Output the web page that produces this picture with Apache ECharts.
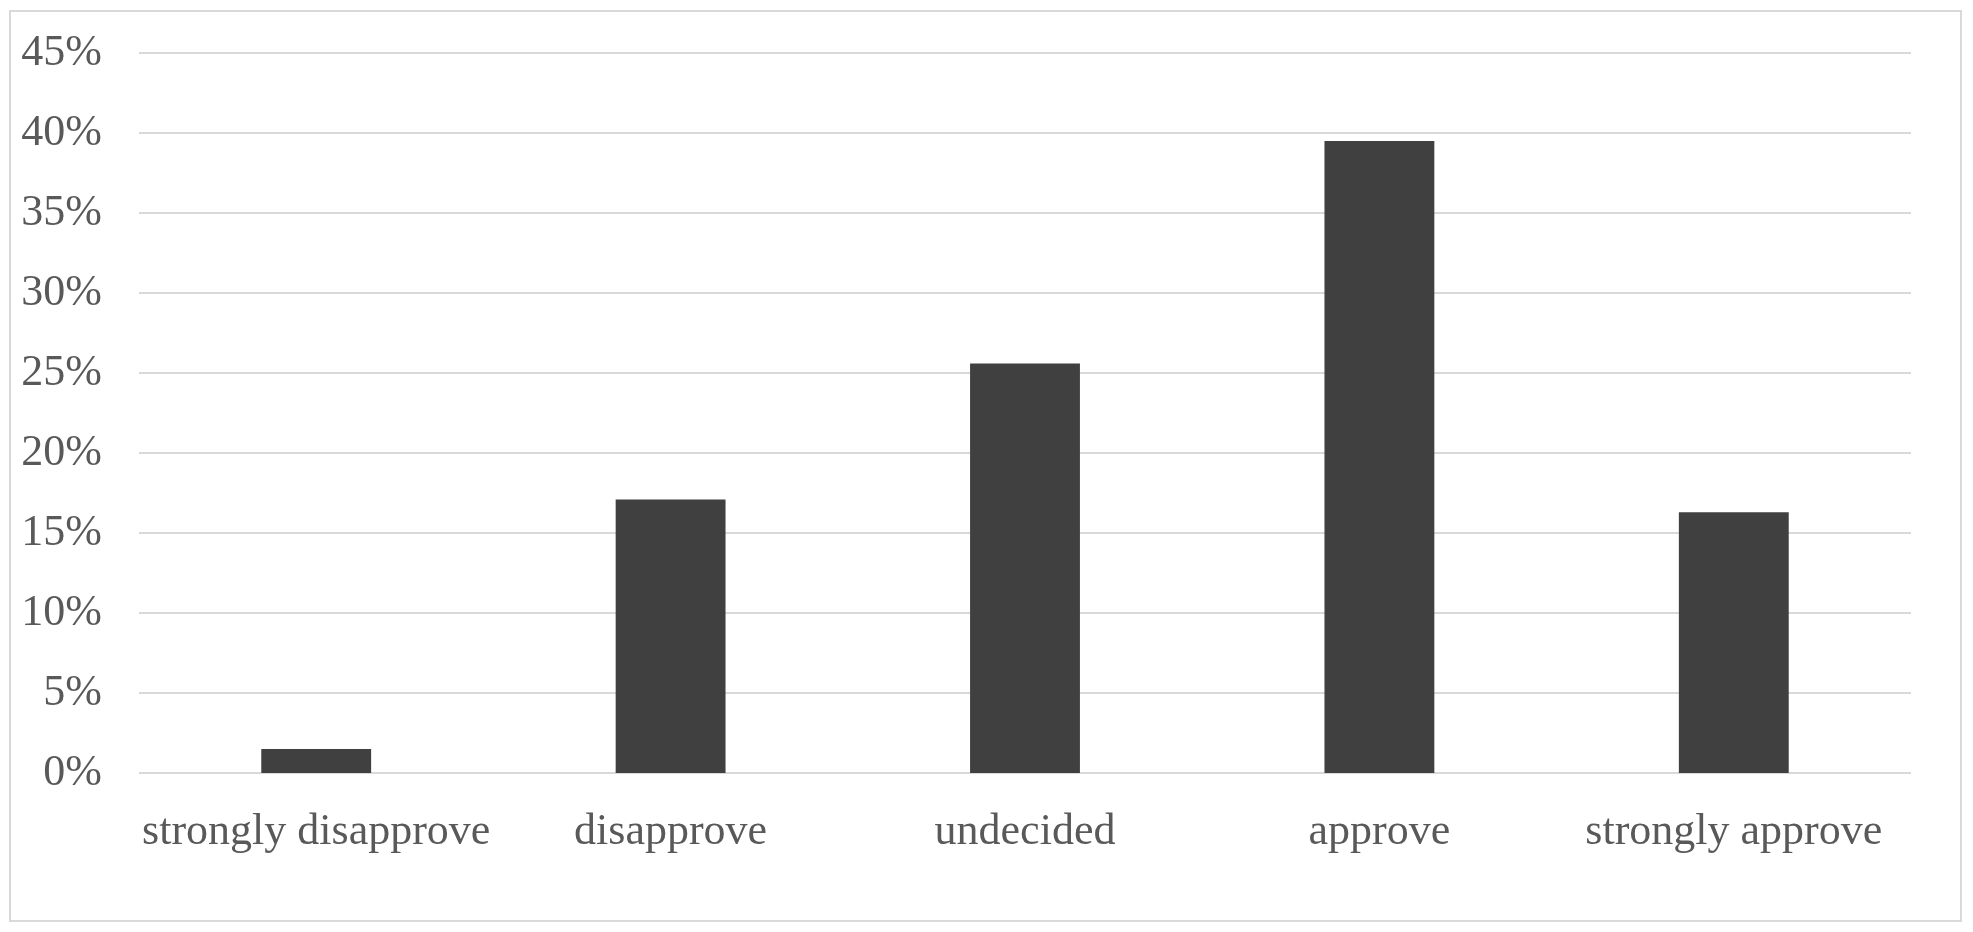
<!DOCTYPE html>
<html>
<head>
<meta charset="utf-8">
<script src="https://cdn.jsdelivr.net/npm/echarts@6/dist/echarts.min.js"></script>
<style>
  html, body { margin: 0; padding: 0; background: #fff; }
  #frame {
    position: absolute; left: 9px; top: 10px;
    width: 1949px; height: 908px;
    border: 2px solid #d9d9d9;
  }
  #chart { position: absolute; left: 0; top: 0; width: 1973px; height: 932px; }
</style>
</head>
<body>
<div id="frame"></div>
<div id="chart"></div>
<script>
// survey answers, share of respondents (%)
var categories = ['strongly disapprove', 'disapprove', 'undecided', 'approve', 'strongly approve'];
var shares = [1.5, 17.1, 25.6, 39.5, 16.3];
var yTicks = [0, 5, 10, 15, 20, 25, 30, 35, 40, 45];

var chart = echarts.init(document.getElementById('chart'));

var option = {
  animation: false,
  grid: { left: 139, right: 62, top: 53, bottom: 159 },
  xAxis: {
    type: 'category',
    data: categories,
    axisLine: { show: false },
    axisTick: { show: false },
    axisLabel: {
      interval: 0,
      margin: 37,
      color: '#595959',
      fontFamily: 'Liberation Serif',
      fontSize: 44
    }
  },
  yAxis: {
    type: 'value',
    min: yTicks[0],
    max: yTicks[yTicks.length - 1],
    interval: 5,
    axisLine: { show: false },
    axisTick: { show: false },
    splitLine: { lineStyle: { color: '#d9d9d9', width: 2 } },
    axisLabel: {
      margin: 37,
      padding: [5, 0, 0, 0],
      color: '#595959',
      fontFamily: 'Liberation Serif',
      fontSize: 44,
      formatter: '{value}%'
    }
  },
  series: [
    {
      type: 'bar',
      data: shares,
      barWidth: '31%',
      itemStyle: { color: '#404040' }
    }
  ]
};

chart.setOption(option);
</script>
</body>
</html>
